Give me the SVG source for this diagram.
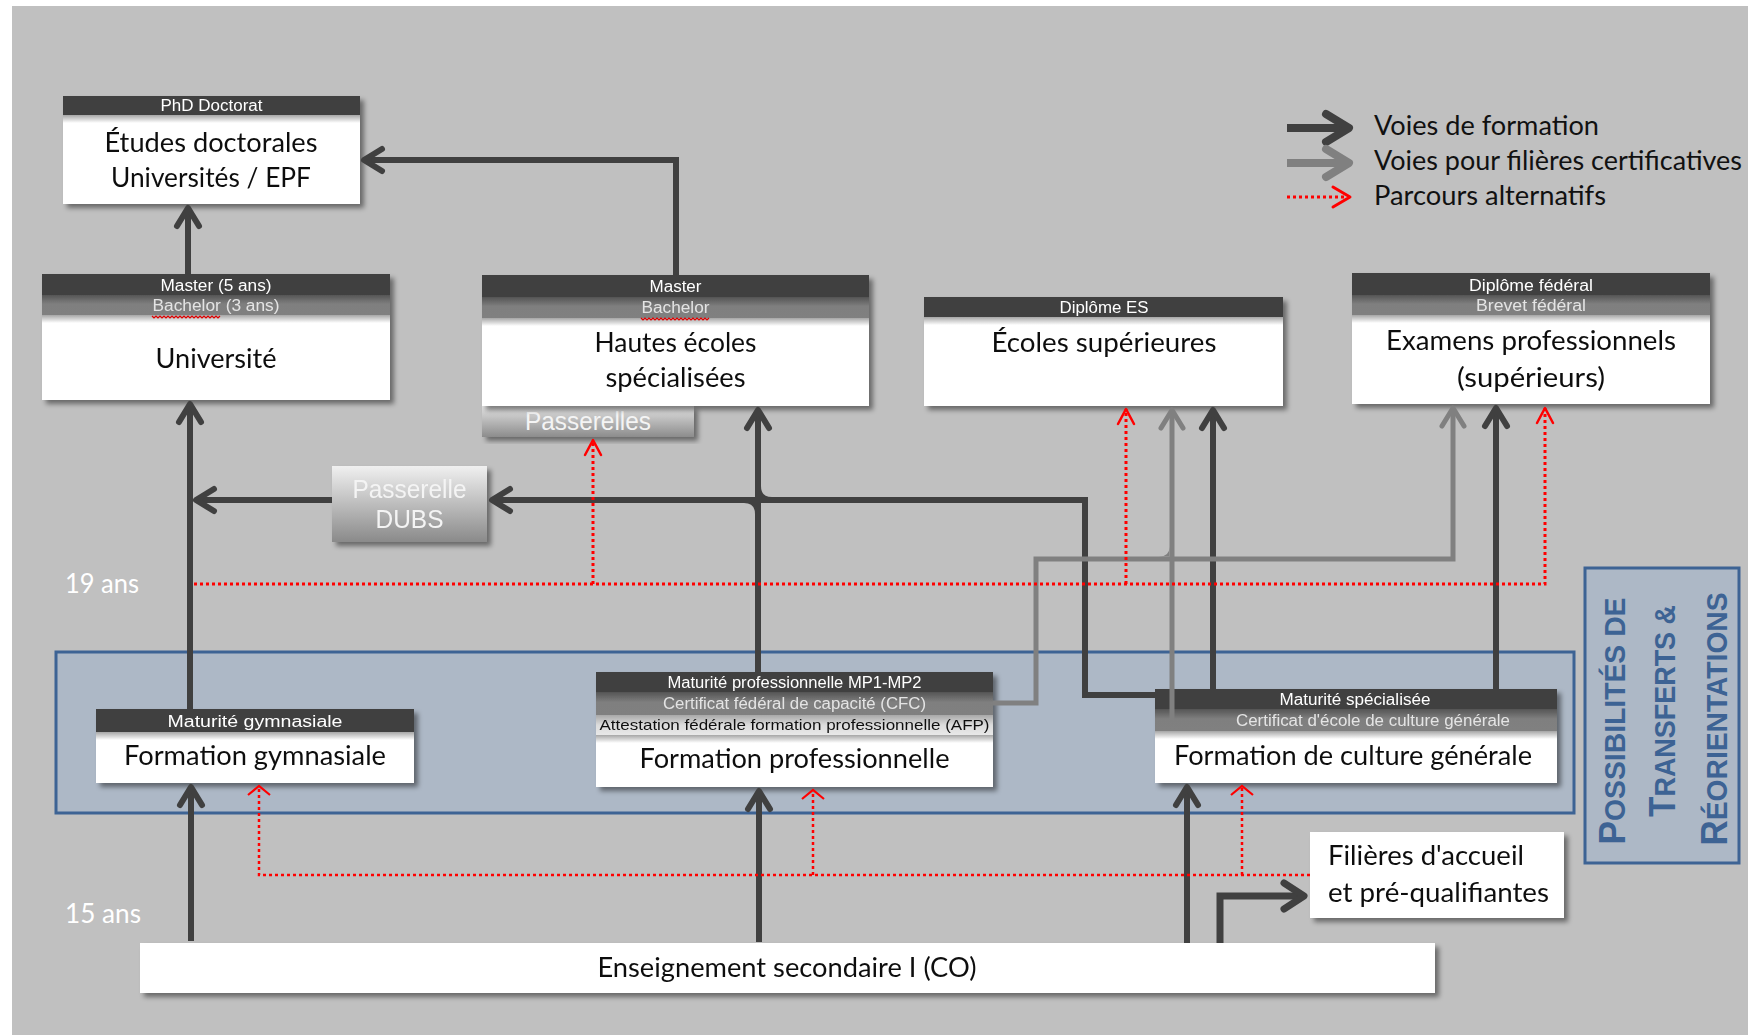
<svg xmlns="http://www.w3.org/2000/svg" width="1756" height="1035" viewBox="0 0 1756 1035">
<defs>
<style>
.hd{font-family:"Liberation Sans",Arial,sans-serif;font-size:16px;fill:#ffffff;text-anchor:middle}
.hd2{font-family:"Liberation Sans",Arial,sans-serif;font-size:16px;fill:#e4e4e4;text-anchor:middle}
.hd3{font-family:"Liberation Sans",Arial,sans-serif;font-size:15px;fill:#111111;text-anchor:middle}
.bt{font-family:Lato,"Liberation Sans",sans-serif;font-size:26px;fill:#111111;text-anchor:middle}
.bts{font-family:Lato,"Liberation Sans",sans-serif;font-size:26px;fill:#111111}
.age{font-family:Lato,"Liberation Sans",sans-serif;font-size:26px;fill:#ffffff}
.pw{font-family:"Liberation Sans",Arial,sans-serif;font-size:25px;fill:#f4f4f4;text-anchor:middle}
.h1{fill:#404040}
.h2{fill:url(#gH2)}
.h3{fill:url(#gH3)}
.bd{fill:#ffffff}
.sh{fill:url(#gSh)}
.dk{fill:none;stroke:#404040;stroke-width:6;marker-end:url(#ad)}
.gr{fill:none;stroke:#808080;stroke-width:5;marker-end:url(#ag)}
.rd{fill:none;stroke:#ff0000;stroke-width:3;stroke-dasharray:3 3;marker-end:url(#ar)}
.rd2{fill:none;stroke:#ff0000;stroke-width:2.5;stroke-dasharray:3 3}
.sq{fill:none;stroke:#e00000;stroke-width:1.2}
.pos{font-family:"Liberation Sans",Arial,sans-serif;font-weight:bold;fill:#3d6394;text-anchor:middle;font-size:29px}
.big{font-size:36px}
</style>
<linearGradient id="gH2" x1="0" y1="0" x2="0" y2="1">
<stop offset="0" stop-color="#555555"/><stop offset="0.45" stop-color="#7f7f7f"/><stop offset="1" stop-color="#808080"/>
</linearGradient>
<linearGradient id="gH3" x1="0" y1="0" x2="0" y2="1">
<stop offset="0" stop-color="#a8a8a8"/><stop offset="0.5" stop-color="#dcdcdc"/><stop offset="1" stop-color="#e8e8e8"/>
</linearGradient>
<linearGradient id="gSh" x1="0" y1="0" x2="0" y2="1">
<stop offset="0" stop-color="#000000" stop-opacity="0.35"/><stop offset="1" stop-color="#000000" stop-opacity="0"/>
</linearGradient>
<linearGradient id="gPass" x1="0" y1="0" x2="0" y2="1">
<stop offset="0" stop-color="#f0f0f0"/><stop offset="1" stop-color="#8a8a8a"/>
</linearGradient>
<linearGradient id="gTab" x1="0" y1="0" x2="0" y2="1">
<stop offset="0" stop-color="#e2e2e2"/><stop offset="1" stop-color="#8c8c8c"/>
</linearGradient>
<filter id="ds" x="-5%" y="-10%" width="115%" height="130%">
<feDropShadow dx="4" dy="4" stdDeviation="2.5" flood-color="#000000" flood-opacity="0.45"/>
</filter>
<marker id="ad" markerUnits="userSpaceOnUse" orient="auto" overflow="visible" markerWidth="1" markerHeight="1" refX="0" refY="0">
<path d="M-18,-11 L0,0 L-18,11" fill="none" stroke="#404040" stroke-width="6" stroke-linecap="round" stroke-linejoin="round"/>
</marker>
<marker id="ag" markerUnits="userSpaceOnUse" orient="auto" overflow="visible" markerWidth="1" markerHeight="1" refX="0" refY="0">
<path d="M-18,-11 L0,0 L-18,11" fill="none" stroke="#808080" stroke-width="5" stroke-linecap="round" stroke-linejoin="round"/>
</marker>
<marker id="ar" markerUnits="userSpaceOnUse" orient="auto" overflow="visible" markerWidth="1" markerHeight="1" refX="0" refY="0">
<path d="M-15,-8 L0,0 L-15,8" fill="none" stroke="#ff0000" stroke-width="2.5" stroke-linecap="round" stroke-linejoin="round"/>
</marker>
</defs>

<rect x="0" y="0" width="1756" height="1035" fill="#ffffff"/>
<rect x="12" y="6" width="1736" height="1029" fill="#c0c0c0"/>

<g id="region-secondaire-II">
<rect x="56" y="652" width="1518" height="161" fill="#adb8c6" stroke="#3d6394" stroke-width="3"/>
</g>

<g id="possibilites">
<rect x="1585" y="568" width="154" height="295" fill="#adb8c6" stroke="#3d6394" stroke-width="3"/>
<text class="pos" transform="translate(1625,721) rotate(-90)" textLength="247" lengthAdjust="spacingAndGlyphs"><tspan class="big">P</tspan>OSSIBILITÉS DE</text>
<text class="pos" transform="translate(1675,711) rotate(-90)" textLength="212" lengthAdjust="spacingAndGlyphs"><tspan class="big">T</tspan>RANSFERTS &amp;</text>
<text class="pos" transform="translate(1727,719) rotate(-90)" textLength="253" lengthAdjust="spacingAndGlyphs"><tspan class="big">R</tspan>ÉORIENTATIONS</text>
</g>

<g id="legend">
<path d="M1287,128 H1345" stroke="#404040" stroke-width="8" fill="none"/>
<path d="M1326,114 L1349,128 L1326,142" stroke="#404040" stroke-width="8" fill="none" stroke-linecap="round" stroke-linejoin="round"/>
<path d="M1287,163 H1345" stroke="#808080" stroke-width="8" fill="none"/>
<path d="M1326,149 L1349,163 L1326,177" stroke="#808080" stroke-width="8" fill="none" stroke-linecap="round" stroke-linejoin="round"/>
<path d="M1287,197 H1346" stroke="#ff0000" stroke-width="3" stroke-dasharray="3 3" fill="none"/>
<path d="M1333,187 L1350,197 L1333,207" stroke="#ff0000" stroke-width="3" fill="none" stroke-linecap="round" stroke-linejoin="round"/>
<text class="bts" x="1374" y="135" textLength="225" lengthAdjust="spacingAndGlyphs">Voies de formation</text>
<text class="bts" x="1374" y="170" textLength="368" lengthAdjust="spacingAndGlyphs">Voies pour filières certificatives</text>
<text class="bts" x="1374" y="205" textLength="232" lengthAdjust="spacingAndGlyphs">Parcours alternatifs</text>
</g>

<g id="node-doctorat" filter="url(#ds)">
<rect class="bd" x="63" y="96" width="297" height="108"/>
<rect class="h1" x="63" y="96" width="297" height="19"/>
<rect class="sh" x="63" y="115" width="297" height="8"/>
<text class="hd" x="211.5" y="111" textLength="102" lengthAdjust="spacingAndGlyphs">PhD  Doctorat</text>
<text class="bt" x="211" y="152" textLength="213" lengthAdjust="spacingAndGlyphs">Études doctorales</text>
<text class="bt" x="211" y="187" textLength="200" lengthAdjust="spacingAndGlyphs">Universités / EPF</text>
</g>

<g id="node-universite" filter="url(#ds)">
<rect class="bd" x="42" y="274" width="348" height="126"/>
<rect class="h2" x="42" y="295" width="348" height="20"/>
<rect class="h1" x="42" y="274" width="348" height="21"/>
<rect class="sh" x="42" y="315" width="348" height="8"/>
<text class="hd" x="216" y="291" textLength="111" lengthAdjust="spacingAndGlyphs">Master  (5 ans)</text>
<text class="hd2" x="216" y="311" textLength="127" lengthAdjust="spacingAndGlyphs">Bachelor (3 ans)</text>
<path class="sq" d="M152,316 l2,2 l2,-2 l2,2 l2,-2 l2,2 l2,-2 l2,2 l2,-2 l2,2 l2,-2 l2,2 l2,-2 l2,2 l2,-2 l2,2 l2,-2 l2,2 l2,-2 l2,2 l2,-2 l2,2 l2,-2 l2,2 l2,-2 l2,2 l2,-2 l2,2 l2,-2 l2,2 l2,-2 l2,2 l2,-2 l2,2 l2,-2"/>
<text class="bt" x="216" y="368" textLength="121" lengthAdjust="spacingAndGlyphs">Université</text>
</g>

<g id="node-hes">
<g filter="url(#ds)">
<rect x="482" y="406" width="212" height="31" fill="url(#gTab)"/>
</g>
<text class="pw" x="588" y="430" textLength="126" lengthAdjust="spacingAndGlyphs">Passerelles</text>
<g filter="url(#ds)">
<rect class="bd" x="482" y="275" width="387" height="131"/>
<rect class="h2" x="482" y="297" width="387" height="21"/>
<rect class="h1" x="482" y="275" width="387" height="22"/>
<rect class="sh" x="482" y="318" width="387" height="8"/>
<text class="hd" x="675.5" y="292" textLength="52" lengthAdjust="spacingAndGlyphs">Master</text>
<text class="hd2" x="675.5" y="313" textLength="68" lengthAdjust="spacingAndGlyphs">Bachelor</text>
<path class="sq" d="M641,318 l2,2 l2,-2 l2,2 l2,-2 l2,2 l2,-2 l2,2 l2,-2 l2,2 l2,-2 l2,2 l2,-2 l2,2 l2,-2 l2,2 l2,-2 l2,2 l2,-2 l2,2 l2,-2 l2,2 l2,-2 l2,2 l2,-2 l2,2 l2,-2 l2,2 l2,-2 l2,2 l2,-2 l2,2 l2,-2 l2,2 l2,-2"/>
<text class="bt" x="675.5" y="352" textLength="162" lengthAdjust="spacingAndGlyphs">Hautes écoles</text>
<text class="bt" x="675.5" y="387" textLength="140" lengthAdjust="spacingAndGlyphs">spécialisées</text>
</g>
</g>

<g id="node-es" filter="url(#ds)">
<rect class="bd" x="924" y="297" width="359" height="109"/>
<rect class="h1" x="924" y="297" width="359" height="20"/>
<rect class="sh" x="924" y="317" width="359" height="8"/>
<text class="hd" x="1104" y="313" textLength="89" lengthAdjust="spacingAndGlyphs">Diplôme  ES</text>
<text class="bt" x="1104" y="352" textLength="225" lengthAdjust="spacingAndGlyphs">Écoles supérieures</text>
</g>

<g id="node-examens" filter="url(#ds)">
<rect class="bd" x="1352" y="273" width="358" height="131"/>
<rect class="h2" x="1352" y="295" width="358" height="20"/>
<rect class="h1" x="1352" y="273" width="358" height="22"/>
<rect class="sh" x="1352" y="315" width="358" height="8"/>
<text class="hd" x="1531" y="291" textLength="124" lengthAdjust="spacingAndGlyphs">Diplôme  fédéral</text>
<text class="hd2" x="1531" y="311" textLength="110" lengthAdjust="spacingAndGlyphs">Brevet fédéral</text>
<text class="bt" x="1531" y="350" textLength="290" lengthAdjust="spacingAndGlyphs">Examens professionnels</text>
<text class="bt" x="1531" y="387" textLength="148" lengthAdjust="spacingAndGlyphs">(supérieurs)</text>
</g>

<g id="node-dubs" filter="url(#ds)">
<rect x="332" y="466" width="155" height="76" fill="url(#gPass)"/>
<text class="pw" x="409.5" y="498" textLength="114" lengthAdjust="spacingAndGlyphs">Passerelle</text>
<text class="pw" x="409.5" y="528" textLength="68" lengthAdjust="spacingAndGlyphs">DUBS</text>
</g>

<g id="ages">
<text class="age" x="65" y="593" textLength="74" lengthAdjust="spacingAndGlyphs">19 ans</text>
<text class="age" x="65" y="923" textLength="76" lengthAdjust="spacingAndGlyphs">15 ans</text>
</g>

<g id="node-gymnasiale" filter="url(#ds)">
<rect class="bd" x="96" y="709" width="318" height="74"/>
<rect class="h1" x="96" y="709" width="318" height="23"/>
<rect class="sh" x="96" y="732" width="318" height="8"/>
<text class="hd" x="255" y="727" font-size="17" textLength="175" lengthAdjust="spacingAndGlyphs">Maturité  gymnasiale</text>
<text class="bt" x="255" y="765" textLength="262" lengthAdjust="spacingAndGlyphs">Formation gymnasiale</text>
</g>

<g id="node-professionnelle" filter="url(#ds)">
<rect class="bd" x="596" y="672" width="397" height="115"/>
<rect class="h3" x="596" y="715" width="397" height="20"/>
<rect class="h2" x="596" y="692" width="397" height="23"/>
<rect class="h1" x="596" y="672" width="397" height="20"/>
<rect class="sh" x="596" y="735" width="397" height="8"/>
<text class="hd" x="794.5" y="688" font-size="15" textLength="254" lengthAdjust="spacingAndGlyphs">Maturité  professionnelle MP1-MP2</text>
<text class="hd2" x="794.5" y="709" font-size="15" textLength="263" lengthAdjust="spacingAndGlyphs">Certificat fédéral de  capacité (CFC)</text>
<text class="hd3" x="794.5" y="730" textLength="390" lengthAdjust="spacingAndGlyphs">Attestation  fédérale formation  professionnelle (AFP)</text>
<text class="bt" x="794.5" y="768" textLength="310" lengthAdjust="spacingAndGlyphs">Formation professionnelle</text>
</g>

<g id="node-culture-generale" filter="url(#ds)">
<rect class="bd" x="1155" y="689" width="402" height="94"/>
<rect class="h2" x="1155" y="709" width="402" height="22"/>
<rect class="h1" x="1155" y="689" width="402" height="20"/>
<rect class="sh" x="1155" y="731" width="402" height="8"/>
<text class="hd" x="1355" y="705" font-size="15" textLength="151" lengthAdjust="spacingAndGlyphs">Maturité  spécialisée</text>
<text class="hd2" x="1373" y="726" font-size="14" textLength="274" lengthAdjust="spacingAndGlyphs">Certificat d'école de culture générale</text>
<text class="bt" x="1353" y="765" textLength="358" lengthAdjust="spacingAndGlyphs">Formation de culture générale</text>
</g>

<g id="node-filieres" filter="url(#ds)">
<rect class="bd" x="1310" y="832" width="254" height="86"/>
<text class="bts" x="1328" y="865" textLength="196" lengthAdjust="spacingAndGlyphs">Filières d'accueil</text>
<text class="bts" x="1328" y="902" textLength="221" lengthAdjust="spacingAndGlyphs">et pré-qualifiantes</text>
</g>

<g id="node-co" filter="url(#ds)">
<rect class="bd" x="140" y="943" width="1295" height="50"/>
<text class="bt" x="787" y="977" textLength="379" lengthAdjust="spacingAndGlyphs">Enseignement secondaire I (CO)</text>
</g>

<g id="connectors">
<path class="dk" d="M188,274 V208"/>
<path class="dk" d="M676,275 V160 H364"/>
<path class="dk" d="M190,709 V404"/>
<path class="dk" d="M332,500 H196"/>
<path class="dk" d="M1155,695 H1085 V500 H492"/>
<path class="dk" d="M758,672 V410"/>
<path class="dk" d="M1213,689 V410"/>
<path class="dk" d="M1496,689 V408"/>
<path class="dk" d="M191,941 V787"/>
<path class="dk" d="M759,942 V791"/>
<path class="dk" d="M1187,943 V787"/>
<path d="M1220,943 V896 H1300" fill="none" stroke="#404040" stroke-width="7"/>
<path d="M1284,883 L1304,896 L1284,909" fill="none" stroke="#404040" stroke-width="7" stroke-linecap="round" stroke-linejoin="round"/>
<path d="M761,486 Q761,497 772,497 L761,497 Z" fill="#404040"/>
<path d="M755,514 Q755,503 744,503 L755,503 Z" fill="#404040"/>
<path class="gr" d="M993,703 H1036 V559 H1453 V408"/>
<path class="gr" d="M1172,720 V410"/>
<path d="M1169.5,547 Q1169.5,556.5 1159,556.5 L1169.5,556.5 Z" fill="#808080"/>
<path class="rd" d="M194,584 H1545 V408"/>
<path class="rd" d="M593,584 V440"/>
<path class="rd" d="M1126,584 V409"/>
<path class="rd2" d="M1310,875 H259 V787"/>
<path class="rd2" d="M813,875 V791"/>
<path class="rd2" d="M1242,875 V787"/>
<path d="M248,795 L259,786 L270,795" fill="none" stroke="#ff0000" stroke-width="2.2"/>
<path d="M802,799 L813,790 L824,799" fill="none" stroke="#ff0000" stroke-width="2.2"/>
<path d="M1231,795 L1242,786 L1253,795" fill="none" stroke="#ff0000" stroke-width="2.2"/>
</g>
</svg>
